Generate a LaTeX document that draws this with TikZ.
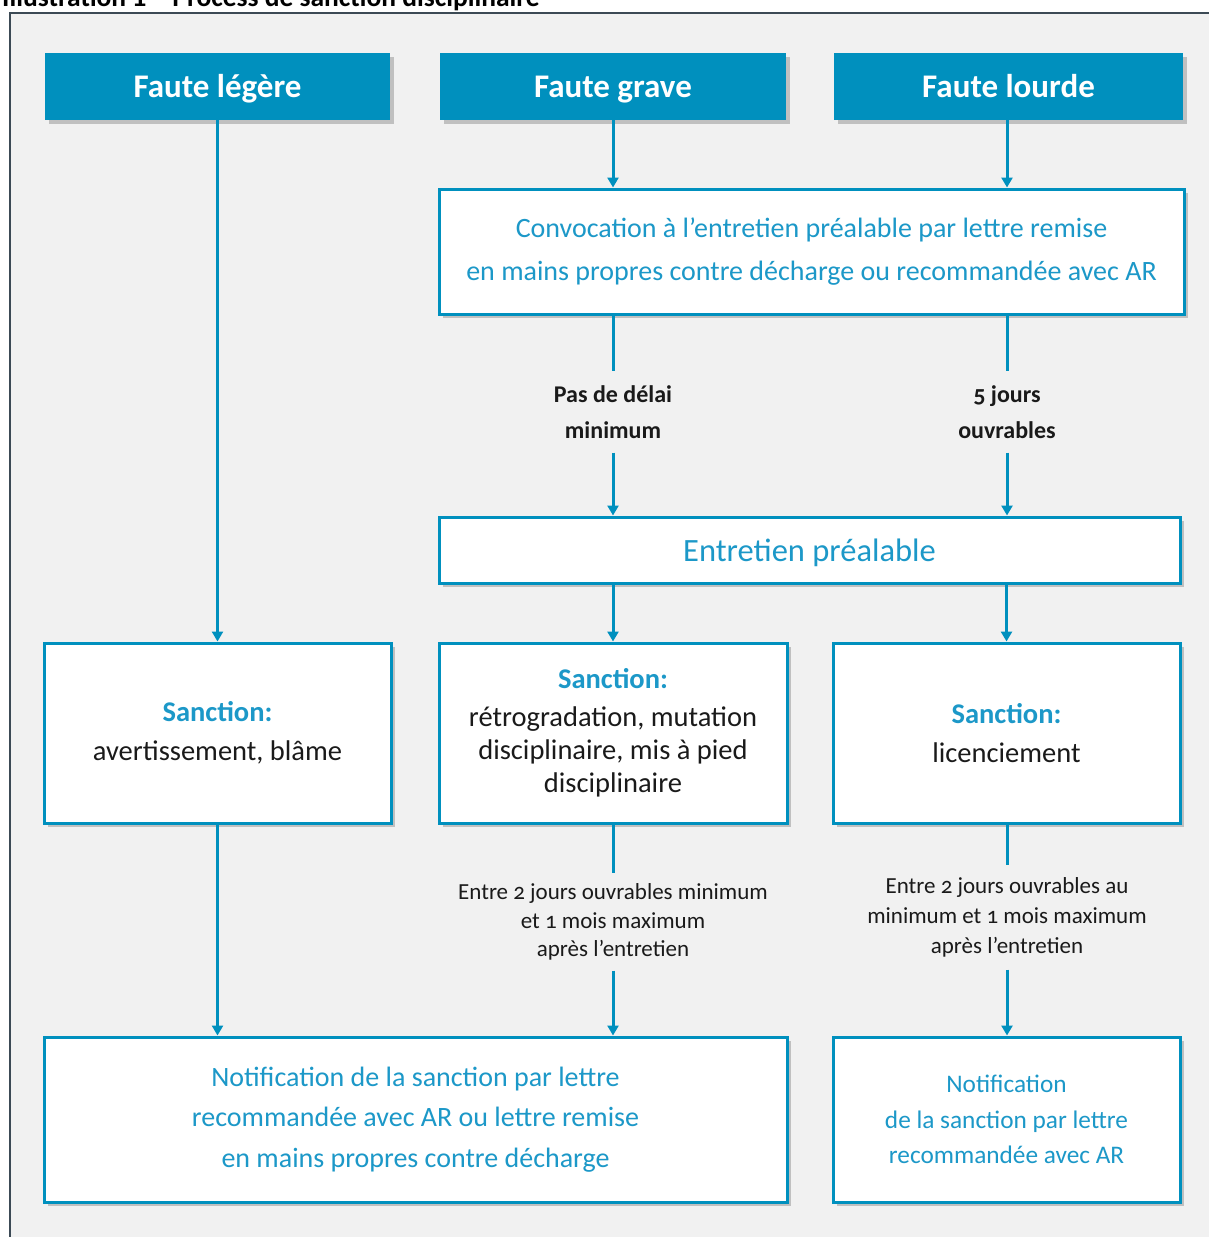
\documentclass[tikz,border=0pt]{standalone}
\usepackage{fontspec}
\setmainfont{Carlito}[Numbers=OldStyle]
\usetikzlibrary{positioning,shadows,arrows.meta}
\definecolor{fautebleu}{RGB}{0,144,190}
\definecolor{textbleu}{RGB}{28,152,200}
\definecolor{fondgris}{RGB}{241,241,241}
\definecolor{cadre}{RGB}{60,74,85}
\definecolor{noir}{RGB}{26,26,26}
\tikzset{
	ombre/.style  = {drop shadow={shadow xshift=4pt, shadow yshift=-4pt, opacity=0.35, fill=black!60}},
	faute/.style  = {ombre, fill=fautebleu, text=white, align=center,
		font=\fontsize{33}{38}\selectfont\bfseries, minimum height=67pt,
		text height=21pt, text depth=0pt},
	etape/.style  = {ombre, draw=fautebleu, line width=3pt, fill=white, align=center,
		text=textbleu},
	sanction/.style = {etape, text=noir, minimum width=347pt, minimum height=180pt,
		font=\fontsize{28.5}{33}\selectfont},
	delai/.style  = {align=center, text=noir, inner xsep=0pt},
	ligne/.style  = {draw=fautebleu, line width=3pt},
	fleche/.style = {ligne, -{Triangle[length=10pt,width=11pt]}}
}
\newcommand{\titresanction}{\textcolor{textbleu}{\bfseries Sanction:}}

\begin{document}
\begin{tikzpicture}[x=1pt, y=-1pt]
	\useasboundingbox (0,0) rectangle (1208,1237);
	% cadre de l'illustration
	\fill[fondgris] (10,13) rectangle (1230,1260);
	\draw[cadre, line width=1.5pt] (10,1260) -- (10,13) -- (1230,13);
	\node[anchor=base west, inner sep=0pt, font=\fontsize{27.5}{32}\selectfont\bfseries] (titre)
		at (2,6) {Illustration 1 -- Process de sanction disciplinaire};
	
	% les trois fautes
	\node[faute, minimum width=345pt] (legere) at (217.5,86.5) {Faute légère};
	\node[faute, minimum width=346pt] (grave) at (613,86.5) {Faute grave};
	\node[faute, minimum width=349pt] (lourde) at (1008.5,86.5) {Faute lourde};
	
	% procedure
	\node[etape, minimum width=745pt, minimum height=125pt,
		font=\fontsize{28}{43}\selectfont] (convoc) at (811.5,251.5)
		{Convocation à l'entretien préalable par lettre remise\\
		 en mains propres contre décharge ou recommandée avec AR};
	\node[delai, inner ysep=14pt, font=\fontsize{24}{36}\selectfont\bfseries] (delai1)
		at (613,412) {Pas de délai\\minimum};
	\node[delai, inner ysep=14pt, font=\fontsize{24}{36}\selectfont\bfseries] (delai2)
		at (1007,412) {5 jours\\ouvrables};
	\node[etape, minimum width=741pt, minimum height=66pt, text height=22pt, text depth=0pt,
		font=\fontsize{32.5}{36}\selectfont] (entretien) at (809.5,550) {Entretien préalable};
	
	% sanctions
	\node[sanction] (sanc1) at (217.5,733) {\titresanction\\[6pt]avertissement, blâme};
	\node[sanction, minimum width=348pt] (sanc2) at (613,733)
		{\titresanction\\[5pt]rétrogradation, mutation\\disciplinaire, mis à pied\\disciplinaire};
	\node[sanction] (sanc3) at (1006.5,733) {\titresanction\\[6pt]licenciement};
	
	\node[delai, inner ysep=10pt, font=\fontsize{23}{28.5}\selectfont] (delai3) at (613,922)
		{Entre 2 jours ouvrables minimum\\et 1 mois maximum\\après l'entretien};
	\node[delai, inner ysep=12pt, font=\fontsize{23}{30}\selectfont] (delai4) at (1007,917.5)
		{Entre 2 jours ouvrables au\\minimum et 1 mois maximum\\après l'entretien};
	
	% notifications
	\node[etape, minimum width=743pt, minimum height=165pt,
		font=\fontsize{28}{40.5}\selectfont] (notif1) at (415.5,1119.5)
		{Notification de la sanction par lettre\\
		 recommandée avec AR ou lettre remise\\
		 en mains propres contre décharge};
	\node[etape, minimum width=347pt, minimum height=165pt,
		font=\fontsize{25.3}{35.5}\selectfont] (notif2) at (1006.5,1119.5)
		{Notification\\de la sanction par lettre\\recommandée avec AR};
	
	% liaisons
	\draw[fleche] (legere) -- (legere |- sanc1.north);
	\draw[fleche] (sanc1) -- (sanc1 |- notif1.north);
	\draw[fleche] (grave) -- (grave |- convoc.north);
	\draw[fleche] (lourde.south -| delai2) -- (delai2 |- convoc.north);
	\draw[ligne] (convoc.south -| delai1) -- (delai1);
	\draw[ligne] (convoc.south -| delai2) -- (delai2);
	\draw[fleche] (delai1) -- (delai1 |- entretien.north);
	\draw[fleche] (delai2) -- (delai2 |- entretien.north);
	\draw[fleche] (entretien.south -| sanc2) -- (sanc2);
	\draw[fleche] (entretien.south -| sanc3) -- (sanc3);
	\draw[ligne] (sanc2) -- (delai3);
	\draw[ligne] (sanc3.south -| delai4) -- (delai4);
	\draw[fleche] (delai3) -- (delai3 |- notif1.north);
	\draw[fleche] (delai4) -- (delai4 |- notif2.north);
\end{tikzpicture}
\end{document}
